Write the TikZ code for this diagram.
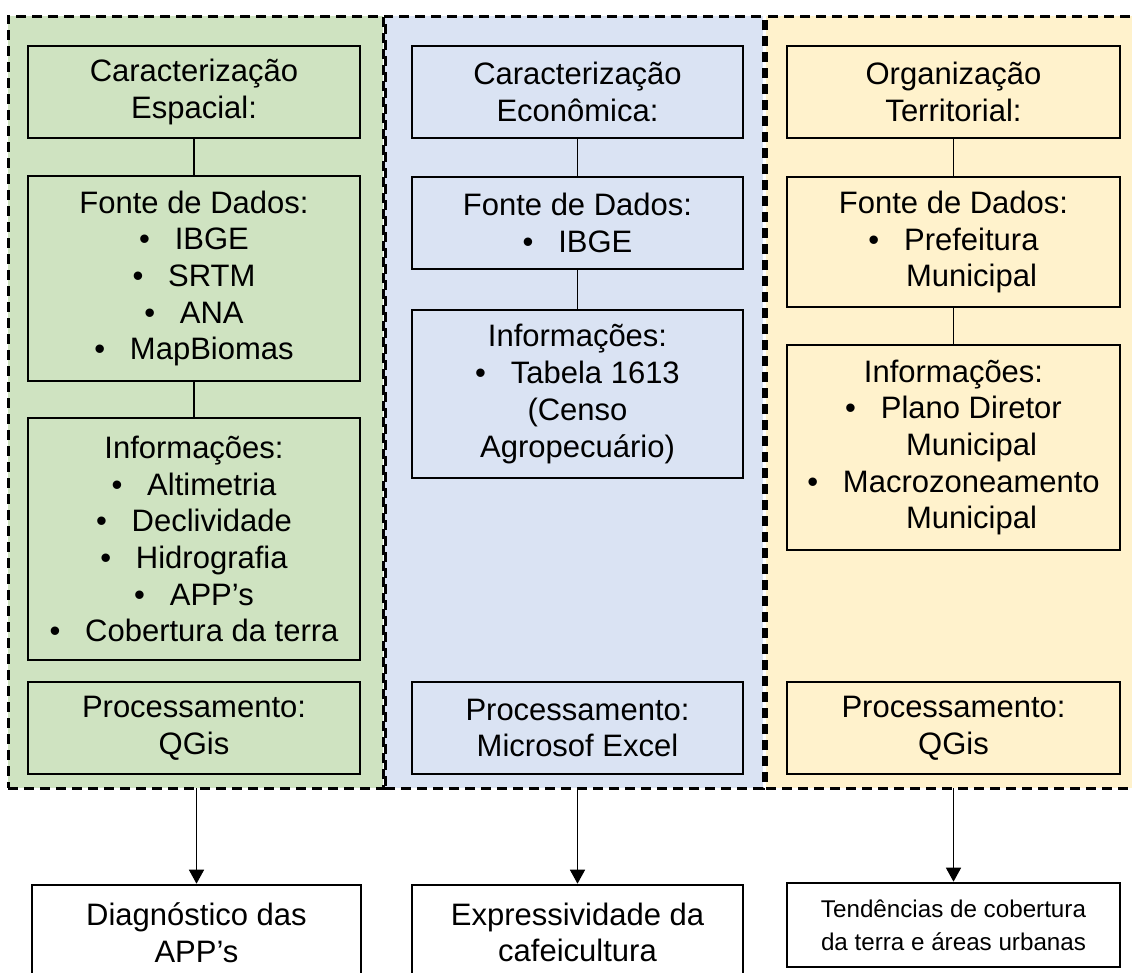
\documentclass[tikz,border=0pt]{standalone}
\usepackage{fontspec}
\setmainfont{Liberation Sans}
\usetikzlibrary{arrows.meta}

\definecolor{verdepainel}{HTML}{CFE3C1}
\definecolor{azulpainel}{HTML}{DAE3F3}
\definecolor{amarelopainel}{HTML}{FFF2CC}

\newcommand{\bul}{\textbullet\hspace{0.8em}}
\newcommand{\cont}[1]{\hspace*{36pt}#1}

\begin{document}
\begin{tikzpicture}[x=1pt,y=-1pt,
	painel/.style={draw,line width=3pt,dash pattern=on 10pt off 6pt,inner sep=0pt,outer sep=0pt,minimum height=772pt},
	caixa/.style={draw,line width=2.6pt,align=center,inner sep=0pt,font=\fontsize{31}{36.7}\selectfont},
	resultado/.style={caixa,fill=white},
	linha/.style={line width=1.5pt},
	seta/.style={line width=1.5pt,-{Triangle[width=15pt,length=14pt]}}]
		\useasboundingbox (0,0) rectangle (1132,972);
		
		% paineis
		\node[painel,fill=verdepainel,minimum width=375pt] (pEsp) at (195.5,402) {};
		\node[painel,fill=azulpainel,minimum width=378pt] (pEco) at (574,402) {};
		\node[painel,fill=amarelopainel,minimum width=380pt] (pTer) at (956,402) {};
		
		% caracterizacao espacial
		\node[caixa,minimum width=332pt,minimum height=92pt] (espTit) at (194,92) {Caracterização\\Espacial:};
		\node[caixa,minimum width=332pt,minimum height=205pt] (espFonte) at (194,278.5) {Fonte de Dados:\\\bul IBGE\\\bul SRTM\\\bul ANA\\\bul MapBiomas};
		\node[caixa,minimum width=332pt,minimum height=242pt] (espInfo) at (194,539) {Informações:\\\bul Altimetria\\\bul Declividade\\\bul Hidrografia\\\bul APP’s\\\bul Cobertura da terra};
		\node[caixa,minimum width=332pt,minimum height=92pt] (espProc) at (194,728) {Processamento:\\QGis};
		
		% caracterizacao economica
		\node[caixa,minimum width=331pt,minimum height=92pt] (ecoTit) at (577.5,92) {Caracterização\\Econômica:};
		\node[caixa,minimum width=331pt,minimum height=92pt] (ecoFonte) at (577.5,223) {Fonte de Dados:\\\bul IBGE};
		\node[caixa,minimum width=331pt,minimum height=168pt] (ecoInfo) at (577.5,394) {Informações:\\\bul Tabela 1613\\(Censo\\Agropecuário)};
		\node[caixa,minimum width=331pt,minimum height=92pt] (ecoProc) at (577.5,728) {Processamento:\\Microsof Excel};
		
		% organizacao territorial
		\node[caixa,minimum width=333pt,minimum height=92pt] (terTit) at (953.5,92) {Organização\\Territorial:};
		\node[caixa,minimum width=333pt,minimum height=130pt] (terFonte) at (953.5,242) {Fonte de Dados:\\\bul Prefeitura\\\cont{Municipal}};
		\node[caixa,minimum width=333pt,minimum height=205pt] (terInfo) at (953.5,447.5) {Informações:\\\bul Plano Diretor\\\cont{Municipal}\\\bul Macrozoneamento\\\cont{Municipal}};
		\node[caixa,minimum width=333pt,minimum height=92pt] (terProc) at (953.5,728) {Processamento:\\QGis};
		
		% resultados
		\node[resultado,minimum width=329pt,minimum height=95pt] (diag) at (196.5,932.5) {Diagnóstico das\\APP’s};
		\node[resultado,minimum width=331pt,minimum height=95pt] (expr) at (577.5,932.5) {Expressividade da\\cafeicultura};
		\node[resultado,minimum width=333pt,minimum height=84pt,font=\fontsize{24.2}{33}\selectfont] (tend) at (953.5,925) {Tendências de cobertura\\da terra e áreas urbanas};
		
		\draw[linha] (espTit) -- (espFonte);
		\draw[linha] (espFonte) -- (espInfo);
		\draw[linha] (ecoTit) -- (ecoFonte);
		\draw[linha] (ecoFonte) -- (ecoInfo);
		\draw[linha] (terTit) -- (terFonte);
		\draw[linha] (terFonte) -- (terInfo);
		
		\draw[seta] (pEsp.south -| diag.north) -- (diag.north);
		\draw[seta] (pEco.south -| expr.north) -- (expr.north);
		\draw[seta] (pTer.south -| tend.north) -- (tend.north);
		\end{tikzpicture}
\end{document}
